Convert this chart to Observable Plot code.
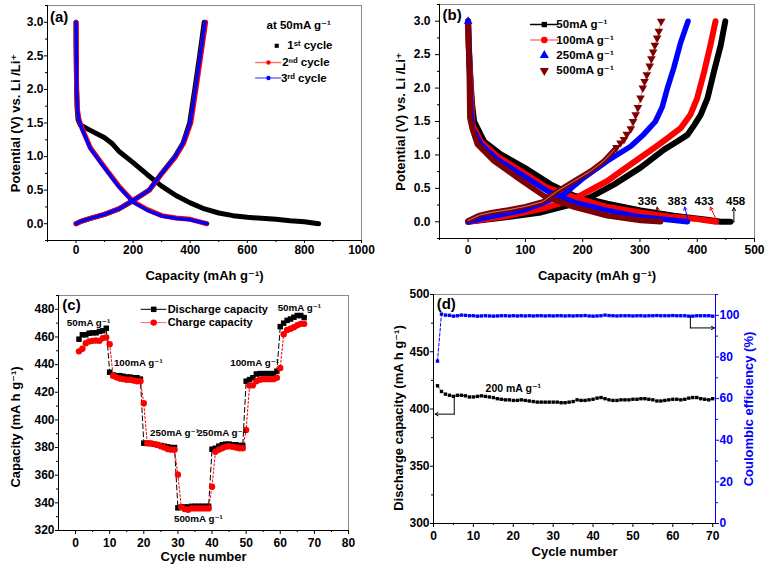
<!DOCTYPE html>
<html><head><meta charset="utf-8">
<script src="https://cdn.jsdelivr.net/npm/d3@7"></script>
<script src="https://cdn.jsdelivr.net/npm/@observablehq/plot@0.6"></script>
<style>
body{margin:0;background:#fff;}
#fig{position:relative;width:765px;height:566px;overflow:hidden;background:#fff;}
</style></head>
<body><div id="fig"></div>
<script>
// ---------- Panel (a): charge/discharge at 50 mA/g, cycles 1-3 ----------
const aCyc1Discharge = [[0,3.0],[0,2.7],[1,2.3],[2,2.0],[4,1.7],[7,1.55],[15,1.47],[50,1.39],[100,1.28],[125,1.2],[150,1.08],[200,0.91],[250,0.73],[300,0.56],[350,0.42],[400,0.31],[450,0.22],[500,0.16],[550,0.12],[600,0.095],[650,0.08],[700,0.065],[750,0.045],[800,0.03],[850,0.0]];
const aCyc1Charge = [[0,0],[20,0.04],[50,0.08],[100,0.14],[150,0.22],[190,0.32],[220,0.4],[256,0.5],[300,0.75],[347,1.0],[375,1.2],[398,1.5],[416,2.0],[433,2.5],[449,3.0]];
const aCyc2Discharge = [[0,3.0],[1,2.5],[2,2.0],[5,1.7],[10,1.56],[20,1.43],[50,1.13],[100,0.84],[150,0.56],[200,0.33],[250,0.21],[300,0.12],[350,0.085],[400,0.065],[430,0.03],[458,0.0]];
const aCyc2Charge = [[0,0],[20,0.04],[50,0.08],[100,0.14],[150,0.22],[190,0.32],[220,0.4],[257,0.5],[301,0.75],[349,1.0],[377,1.2],[402,1.5],[420,2.0],[437,2.5],[454,3.0]];
const aCyc3Discharge = [[0,3.0],[1,2.5],[2,2.0],[5,1.7],[10,1.55],[20,1.42],[50,1.12],[100,0.83],[150,0.55],[200,0.32],[250,0.2],[300,0.115],[350,0.08],[400,0.06],[430,0.03],[460,0.0]];
const aCyc3Charge = [[0,0],[20,0.04],[50,0.08],[100,0.14],[150,0.22],[190,0.32],[220,0.4],[256,0.5],[300,0.75],[347,1.0],[375,1.2],[400,1.5],[418,2.0],[435,2.5],[452,3.0]];
const aCycleLabels = ["1ˢᵗ cycle", "2ⁿᵈ cycle", "3ʳᵈ cycle"];
const aCapTicks = [0,200,400,600,800,1000];
const aCapMinor = [-100,100,300,500,700,900];
const potTicks = [0,0.5,1.0,1.5,2.0,2.5,3.0];
const potMinor = [-0.25,0.25,0.75,1.25,1.75,2.25,2.75,3.25];

// ---------- Panel (b): rate curves ----------
const bDis50  = [[0,3.0],[1,2.65],[2,2.5],[3,2.3],[5,2.0],[7,1.75],[10.5,1.5],[28,1.2],[57,1.01],[98,0.81],[144,0.56],[185,0.39],[243,0.27],[301,0.17],[359,0.09],[417,0.03],[441,0.0],[458,0.0]];
const bChg50  = [[0,0],[69,0.07],[127,0.14],[185,0.27],[214,0.37],[255,0.56],[301,0.81],[342,1.08],[365,1.2],[383,1.3],[395,1.45],[406,1.6],[418,1.85],[429,2.24],[441,2.64],[449,3.0]];
const bDis100 = [[0,3.0],[1,2.6],[2,2.45],[3,2.27],[4,2.12],[5.5,1.8],[7.6,1.45],[22,1.2],[51,0.98],[92,0.76],[138,0.51],[185,0.37],[243,0.22],[301,0.14],[359,0.07],[400,0.04],[433,0.0]];
const bChg100 = [[0,0],[70,0.09],[127,0.19],[185,0.34],[202,0.42],[243,0.61],[284,0.86],[324,1.1],[348,1.25],[371,1.4],[388,1.6],[400,1.85],[412,2.24],[423,2.64],[432,3.0]];
const bDis250 = [[0,3.0],[2,2.5],[3,2.07],[4.5,1.67],[7.6,1.4],[22,1.16],[51,0.93],[92,0.71],[138,0.46],[185,0.29],[243,0.17],[301,0.07],[350,0.03],[383,0.0]];
const bChg250 = [[0,0],[40,0.08],[100,0.18],[130,0.28],[156,0.37],[167,0.41],[202,0.66],[243,0.91],[284,1.13],[307,1.31],[327,1.5],[339,1.72],[348,2.0],[359,2.3],[371,2.68],[384,3.0]];
const bDis500 = [[0,3.0],[2,2.2],[3,1.55],[7.6,1.38],[16,1.16],[45,0.91],[86,0.66],[132,0.39],[185,0.22],[243,0.09],[301,0.02],[336,0.0]];
const bChg500 = [[0,0.02],[20,0.1],[40,0.14],[70,0.18],[100,0.23],[130,0.3],[156,0.46],[185,0.61],[214,0.76],[237,0.91],[259,1.11],[266,1.18],[272,1.23],[277,1.31],[284,1.39],[288,1.5],[292.5,1.6],[296.5,1.71],[301,1.85],[305,2.0],[308,2.1],[312,2.2],[317,2.33],[320,2.44],[323,2.54],[326,2.64],[330,2.75],[333,2.85],[337,3.0]];
const bRates = ["50mA g⁻¹","100mA g⁻¹","250mA g⁻¹","500mA g⁻¹"];
const bEndCapacity = [336, 383, 433, 458];
const bCapTicks = [0,100,200,300,400,500];
const bCapMinor = [-50,50,150,250,350,450];

// ---------- Panel (c): rate capability ----------
const cCycles = d3.range(1, 68);
const cDischarge = [458.4,461.6,461.6,462.7,463,463,464,464.5,466.3,
  434.5,432.5,432,432,431.5,431,431,430.5,430.5,429.5,
  383.2,383,383,382.5,382,381.5,381,380.5,380,380,
  336.4,337,337,337,337.5,337.5,337.5,337.5,337.5,337.5,
  378.8,379.5,381,382,382.5,382.5,382,382,381.5,381.5,
  428,429.2,430.5,433.2,433.5,433.5,433.5,433.5,433.5,435.2,
  467.5,470,472,473,474.3,475.5,475.5,474];
const cCharge = [449.6,451.5,455.5,456.8,457.2,457.5,457.2,459.2,459.7,
  454.8,432,430.8,430,429.5,429,429,428.5,428,428,
  412,383.2,383,382.5,382,381,380,379,378.5,378.5,
  360.4,336.8,335.5,335,336,336,336,336,336,336,
  351.7,377,378.5,379.5,380.5,381,380.5,380,379.5,379.5,
  392.7,424.9,425,428,429,429.5,429.5,429.5,429.5,430.5,
  437.5,462,465,466,467,468.5,469.5,469.5];
const cRateLabels = ["50mA g⁻¹","100mA g⁻¹","250mA g⁻¹","500mA g⁻¹","250mA g⁻¹","100mA g⁻¹","50mA g⁻¹"];
const cSeries = ["Discharge capacity","Charge capacity"];
const cCycleTicks = [0,10,20,30,40,50,60,70,80];
const cCycleMinor = [5,15,25,35,45,55,65,75];
const cCapTicks = [320,340,360,380,400,420,440,460,480];
const cCapMinor = [330,350,370,390,410,430,450,470,490];

// ---------- Panel (d): cycling at 200 mA/g ----------
const dCycles = d3.range(1, 71);
const dDischarge = [420.3,415.3,413,412,411,412,412,411.5,410.5,410.5,
  411,411.5,411,410.5,410,409,408.5,408,408,407.5,
  407.5,408,407.5,407,406.5,406,406,406,406,406,
  406,405.5,405.5,406,406.5,408,407.5,407.5,408,408.5,
  409.5,410,409,408,407.5,407.5,408,408,408,408.5,
  408.5,409,409,408.5,408,407,407,407.5,408,408.5,
  408.5,408,408.5,409.5,410,410,409,408.5,408,409];
const dEfficiency = [78.0,100.6,100.1,100.0,99.6,99.8,100.1,100.0,99.8,99.8,
  99.6,99.7,99.8,99.7,99.6,99.7,99.8,99.8,99.7,99.8,
  99.7,99.8,99.7,99.8,99.7,99.8,99.8,99.7,99.8,99.7,
  99.8,99.8,99.7,99.8,99.7,99.8,99.8,99.9,99.7,99.6,
  99.7,99.8,100.1,99.9,99.8,99.7,99.8,99.8,99.8,99.7,
  99.8,99.8,99.7,99.8,99.8,99.9,99.8,99.8,99.8,99.9,
  99.8,99.8,99.8,99.6,99.6,99.8,99.8,99.8,99.8,99.6];
const dCycleTicks = [0,10,20,30,40,50,60,70];
const dCycleMinor = [5,15,25,35,45,55,65];
const dCapTicks = [300,350,400,450,500];
const dCapMinor = [325,375,425,475];
const dEffTicks = [0,20,40,60,80,100];
const dEffMinor = [10,30,50,70,90,110];

// ---------- helpers ----------
const fig = document.getElementById("fig");
const F = "'Liberation Sans', Arial, Helvetica, 'DejaVu Sans', sans-serif";
const STYLE = `font-family:${F};font-size:12px;font-weight:bold;color:#000;background:transparent;overflow:visible;`;
const RED = "#ff0000", BLUE = "#0000ff", DRED = "#7f0000";
function place(svg, left, top){ svg.style.position="absolute"; svg.style.left=left+"px"; svg.style.top=top+"px"; fig.appendChild(svg); }
function axes(o){
  return [
    Plot.axisX({ticks:o.xMinor, tickSize:2, tickFormat:()=>"", label:null}),
    Plot.axisX({ticks:o.xMajor, tickSize:o.xSize, tickPadding:o.xPad, tickFormat:o.xFmt, label:null}),
    Plot.axisY({ticks:o.yMinor, tickSize:2, tickFormat:()=>"", label:null}),
    Plot.axisY({ticks:o.yMajor, tickSize:o.ySize, tickPadding:o.yPad, tickFormat:o.yFmt, label:null})
  ];
}
function xTitle(t, dy){ return Plot.text([t], {text:d=>d, frameAnchor:"bottom", dy, textAnchor:"middle", lineAnchor:"middle", fontSize:13, fontWeight:"bold"}); }
function yTitle(t, anchor, dx, dy, fill="#000"){ return Plot.text([t], {text:d=>d, frameAnchor:anchor, dx, dy, rotate:-90, textAnchor:"middle", lineAnchor:"middle", fontSize:13, fontWeight:"bold", fill}); }
function frames(rightColor="#888"){
  return [
    Plot.frame({stroke:"#888"}),
    Plot.frame({anchor:"right", stroke:rightColor}),
    Plot.frame({anchor:"left", stroke:"#000"}),
    Plot.frame({anchor:"bottom", stroke:"#000"})
  ];
}
const thick = (w, c) => ({stroke:c, strokeWidth:w, strokeLinejoin:"round", strokeLinecap:"round"});
const lbl = (fs=11) => ({text:"t", fontSize:fs, fontWeight:"bold"});

// ---------- (a) ----------
place(Plot.plot({
  width:380, height:285, marginLeft:47, marginRight:19, marginTop:5, marginBottom:45,
  style:STYLE,
  x:{domain:[-100,1000]}, y:{domain:[-0.25,3.25]},
  marks:[
    ...axes({xMajor:aCapTicks, xMinor:aCapMinor, yMajor:potTicks, yMinor:potMinor, xFmt:d3.format("d"), yFmt:d3.format(".1f"), xSize:3, xPad:2, ySize:3, yPad:1}),
    Plot.line(aCyc1Charge, thick(5, "#000")),
    Plot.line(aCyc1Discharge, thick(5, "#000")),
    Plot.line(aCyc2Charge, thick(5, RED)),
    Plot.line(aCyc2Discharge, thick(5, RED)),
    Plot.line(aCyc3Charge, thick(3.5, BLUE)),
    Plot.line(aCyc3Discharge, thick(3.5, BLUE)),
    ...frames(),
    Plot.text([{x:-59, y:3.07, t:"(a)"}], {x:"x", y:"y", ...lbl(15)}),
    Plot.text([{x:780, y:2.95, t:"at 50mA g⁻¹"}], {x:"x", y:"y", ...lbl(11.5)}),
    Plot.line([[629,2.4],[717,2.4]], {stroke:RED, strokeOpacity:0.55, strokeWidth:1.5}),
    Plot.line([[629,2.17],[717,2.17]], {stroke:BLUE, strokeOpacity:0.55, strokeWidth:1.5}),
    Plot.dot([[703,2.65]], {symbol:"square", r:2.3, fill:"#000"}),
    Plot.dot([[674,2.4]], {r:2.2, fill:RED}),
    Plot.dot([[674,2.17]], {r:2.2, fill:BLUE}),
    Plot.text(aCycleLabels.map((t,i)=>({t, x:[740,722,718][i], y:[2.65,2.4,2.17][i]})), {x:"x", y:"y", textAnchor:"start", ...lbl(11.5)}),
    xTitle("Capacity (mAh g⁻¹)", 35),
    yTitle("Potential (V) vs. Li /Li⁺", "left", -32, 0)
  ]
}), 0, 0);

// ---------- (b) ----------
const b500Markers = bChg500.filter(d => d[1] >= 1.05);
place(Plot.plot({
  width:385, height:285, marginLeft:59, marginRight:11, marginTop:4, marginBottom:47,
  style:STYLE,
  x:{domain:[-50,500]}, y:{domain:[-0.25,3.25]},
  marks:[
    ...axes({xMajor:bCapTicks, xMinor:bCapMinor, yMajor:potTicks, yMinor:potMinor, xFmt:d3.format("d"), yFmt:d3.format(".1f"), xSize:4, xPad:3, ySize:4, yPad:5}),
    Plot.line(bDis50, thick(6, "#000")),
    Plot.line(bChg50, thick(6, "#000")),
    Plot.line(bDis100, thick(6, RED)),
    Plot.line(bChg100, thick(6, RED)),
    Plot.line(bDis250, thick(5.5, BLUE)),
    Plot.line(bChg250, thick(5.5, BLUE)),
    Plot.line(bDis500, thick(5.5, DRED)),
    Plot.line(bChg500.filter(d => d[1] <= 1.15), thick(5, DRED)),
    Plot.line(bChg500, {stroke:"#c08080", strokeWidth:1}),
    Plot.dot(b500Markers, {symbol:"triangle", rotate:180, r:3.2, fill:DRED}),
    Plot.dot([[0,3.0]], {symbol:"triangle", r:3.2, fill:BLUE}),
    ...frames(),
    Plot.text([{x:-28, y:3.09, t:"(b)"}], {x:"x", y:"y", ...lbl(15)}),
    // legend
    Plot.line([[109,2.95],[156,2.95]], {stroke:"#000", strokeWidth:1.5}),
    Plot.line([[109,2.72],[156,2.72]], {stroke:RED, strokeOpacity:0.5, strokeWidth:1.5}),
    Plot.dot([[133,2.95]], {symbol:"square", r:3, fill:"#000"}),
    Plot.dot([[133,2.72]], {r:3.3, fill:RED}),
    Plot.dot([[133,2.49]], {symbol:"triangle", r:3.4, fill:BLUE}),
    Plot.dot([[133,2.26]], {symbol:"triangle", rotate:180, r:3.4, fill:DRED}),
    Plot.text(bRates.map((t,i)=>({t, x:154, y:[2.95,2.72,2.49,2.26][i]})), {x:"x", y:"y", textAnchor:"start", ...lbl(11.5)}),
    // end-capacity annotations
    Plot.arrow([{x1:334,y1:0.0,x2:330,y2:0.22,c:DRED},{x1:385,y1:0.0,x2:378,y2:0.22,c:BLUE},{x1:435,y1:0.0,x2:423,y2:0.22,c:RED}],
      {x1:"x1", y1:"y1", x2:"x2", y2:"y2", stroke:"c", strokeWidth:1, headLength:5}),
    Plot.line([[441,0],[464,0]], {stroke:"#000", strokeWidth:1}),
    Plot.arrow([{x1:464,y1:0,x2:464,y2:0.21}], {x1:"x1", y1:"y1", x2:"x2", y2:"y2", stroke:"#000", strokeWidth:1, headLength:5}),
    Plot.text(bEndCapacity.map((v,i)=>({t:String(v), x:[313,365,412,467][i], y:0.31})), {x:"x", y:"y", ...lbl(11.5)}),
    xTitle("Capacity (mAh g⁻¹)", 37),
    yTitle("Potential (V) vs. Li /Li⁺", "left", -39, 0)
  ]
}), 380, 0);

// ---------- (c) ----------
place(Plot.plot({
  width:380, height:281, marginLeft:58, marginRight:32, marginTop:10, marginBottom:36,
  style:STYLE,
  x:{domain:[-5,80]}, y:{domain:[320,490]},
  marks:[
    ...axes({xMajor:cCycleTicks, xMinor:cCycleMinor, yMajor:cCapTicks, yMinor:cCapMinor, xFmt:d3.format("d"), yFmt:d3.format("d"), xSize:4, xPad:4, ySize:3, yPad:1}),
    Plot.line(cCycles.map((c,i)=>[c,cDischarge[i]]), {stroke:"#000", strokeWidth:1, strokeDasharray:"5,3"}),
    Plot.dot(cCycles.map((c,i)=>[c,cDischarge[i]]), {symbol:"square", r:3.1, fill:"#000"}),
    Plot.line(cCycles.map((c,i)=>[c,cCharge[i]]), {stroke:RED, strokeWidth:1, strokeDasharray:"2,2"}),
    Plot.dot(cCycles.map((c,i)=>[c,cCharge[i]]), {r:3.2, fill:RED}),
    ...frames(),
    Plot.text([{x:-1.2, y:483, t:"(c)"}], {x:"x", y:"y", ...lbl(15)}),
    Plot.line([[19.2,480],[26.5,480]], {stroke:"#000", strokeWidth:1}),
    Plot.line([[19.2,470.4],[26.5,470.4]], {stroke:RED, strokeOpacity:0.6, strokeWidth:1}),
    Plot.dot([[22.9,480]], {symbol:"square", r:3.1, fill:"#000"}),
    Plot.dot([[22.9,470.4]], {r:3.2, fill:RED}),
    Plot.text(cSeries.map((t,i)=>({t, x:27.0, y:[480,470.4][i]})), {x:"x", y:"y", textAnchor:"start", ...lbl(11)}),
    Plot.text(cRateLabels.map((t,i)=>({t, x:[3.8,18.4,29.0,36,42.8,52.5,65.6][i], y:[470,441,390.5,328.7,390.5,441,481.4][i]})), {x:"x", y:"y", ...lbl(9.8)}),
    xTitle("Cycle number", 26),
    yTitle("Capacity (mA h g⁻¹)", "left", -43, 14)
  ]
}), 0, 285);

// ---------- (d) ----------
const effToY = v => 300 + v * 200 / 110;
const yToEff = y => Math.round((y - 300) * 110 / 200);
place(Plot.plot({
  width:385, height:281, marginLeft:53, marginRight:50, marginTop:9, marginBottom:43,
  style:STYLE,
  x:{domain:[0,70.7]}, y:{domain:[300,500]},
  marks:[
    ...axes({xMajor:dCycleTicks, xMinor:dCycleMinor, yMajor:dCapTicks, yMinor:dCapMinor, xFmt:d3.format("d"), yFmt:d3.format("d"), xSize:4, xPad:4, ySize:3, yPad:1}),
    Plot.axisY({anchor:"right", ticks:dEffMinor.map(effToY), tickSize:2, tickFormat:()=>"", label:null, color:BLUE}),
    Plot.axisY({anchor:"right", ticks:dEffTicks.map(effToY), tickSize:3, tickPadding:1, tickFormat:yToEff, label:null, color:BLUE}),
    Plot.line(dCycles.map((c,i)=>[c,dDischarge[i]]), {stroke:"#000", strokeWidth:0.8, strokeDasharray:"3,2"}),
    Plot.dot(dCycles.map((c,i)=>[c,dDischarge[i]]), {symbol:"square", r:1.9, fill:"#000"}),
    Plot.line(dCycles.map((c,i)=>[c,effToY(dEfficiency[i])]), {stroke:BLUE, strokeWidth:1, strokeDasharray:"3,2"}),
    Plot.dot(dCycles.map((c,i)=>[c,effToY(dEfficiency[i])]), {symbol:"square", r:1.9, fill:BLUE}),
    ...frames(BLUE),
    Plot.text([{x:3.2, y:491.8, t:"(d)"}], {x:"x", y:"y", ...lbl(15)}),
    Plot.text([{x:20, y:418.2, t:"200 mA g⁻¹"}], {x:"x", y:"y", ...lbl(10.5)}),
    Plot.line([[5.2,410.7],[5.2,395.5]], {stroke:"#000", strokeWidth:1}),
    Plot.arrow([{x1:5.2,y1:395.5,x2:0.4,y2:395.5}], {x1:"x1", y1:"y1", x2:"x2", y2:"y2", stroke:"#000", strokeWidth:1, headLength:5}),
    Plot.line([[64.4,481.3],[64.4,470.8]], {stroke:"#000", strokeWidth:1}),
    Plot.arrow([{x1:64.4,y1:470.8,x2:70.4,y2:470.8}], {x1:"x1", y1:"y1", x2:"x2", y2:"y2", stroke:"#000", strokeWidth:1, headLength:5}),
    xTitle("Cycle number", 28),
    yTitle("Discharge capacity (mA h g⁻¹)", "left", -35, 9),
    yTitle("Coulombic efficiency (%)", "right", 33, 0, BLUE)
  ]
}), 380, 285);
</script>
</body></html>
